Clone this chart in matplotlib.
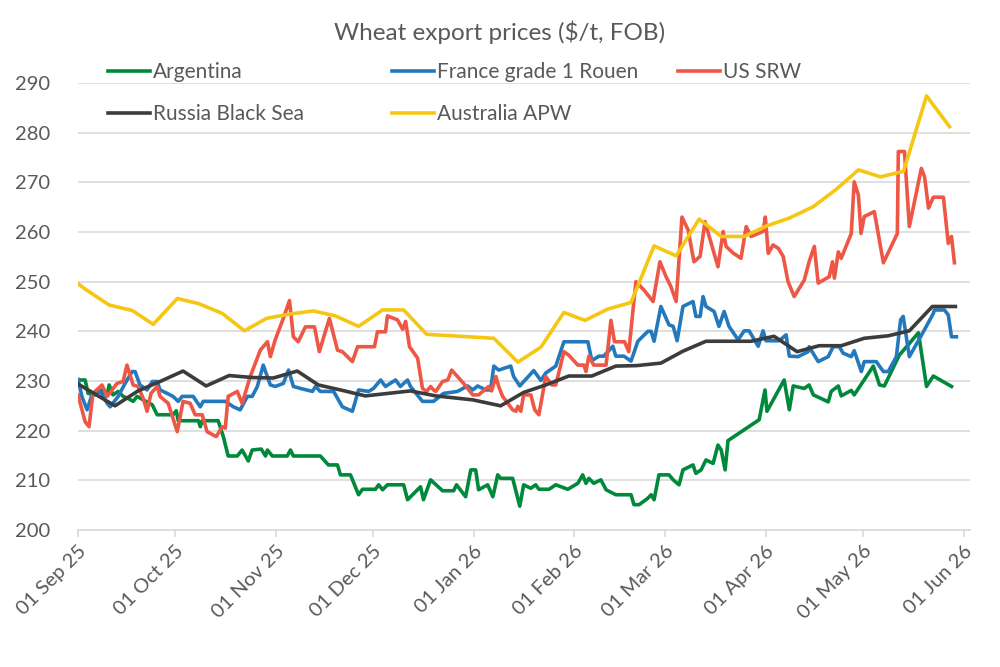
import matplotlib
matplotlib.use('Agg')
import matplotlib.pyplot as plt
import matplotlib.dates as mdates
import pandas as pd

# Wheat export prices ($/t, FOB)
# x values are days after 01 Sep 25

START = pd.Timestamp('2025-09-01')

arg_days = [0, 2.2, 3.1, 5.3, 7.4, 9.0, 9.6, 10.8, 12.4, 13.9, 15.4, 17.0, 18.2, 22.9, 24.4,
            29.3, 30.3, 30.9, 37.1, 37.7, 38.3, 43.2, 44.8, 46.3, 49.1, 50.6, 52.5, 53.7,
            56.5, 57.8, 58.4, 59.9, 64.5, 65.5, 66.4, 74.7, 77.2, 80.0, 80.9, 84.0, 86.5,
            87.7, 91.7, 92.7, 93.9, 95.4, 100.4, 101.6, 105.6, 106.5, 108.7, 112.4, 115.8,
            116.7, 119.5, 121.1, 122.6, 123.5, 126.3, 127.9, 129.4, 130.3, 134.0, 136.2,
            137.4, 139.6, 141.1, 142.1, 145.2, 147.3, 151.0, 154.1, 155.6, 156.6, 157.5,
            159.0, 161.2, 162.8, 165.8, 170.5, 171.4, 173.0, 175.7, 176.7, 177.6, 179.1,
            182.2, 183.5, 185.3, 186.5, 189.6, 190.5, 192.1, 193.6, 195.8, 197.3, 198.3,
            199.5, 200.4, 210.0, 211.8, 212.4, 217.7, 219.3, 220.5, 223.9, 225.4, 226.7,
            231.3, 232.2, 234.4, 235.3, 238.4, 239.3, 245.2, 247.1, 248.6, 253.2, 259.1,
            261.6, 263.7, 269.3]
arg_vals = [230.2, 230.2, 227.5, 227.2, 228.2, 227.2, 229.2, 227.2, 227.9, 226.9, 226.5,
            225.9, 226.9, 225.2, 223.2, 223.2, 224.0, 222.0, 222.0, 220.8, 222.0, 222.0,
            218.8, 214.9, 214.9, 216.1, 213.9, 216.1, 216.3, 214.9, 216.1, 214.9, 214.9,
            216.1, 214.9, 214.9, 213.1, 213.1, 211.1, 211.1, 207.1, 208.2, 208.2, 209.1,
            208.1, 209.1, 209.1, 206.1, 208.7, 206.1, 210.1, 207.9, 207.9, 209.1, 206.7,
            212.1, 212.1, 208.1, 209.1, 206.7, 211.1, 210.4, 210.4, 204.8, 209.1, 208.4,
            209.1, 208.2, 208.2, 209.1, 208.2, 209.4, 211.1, 209.4, 210.4, 209.4, 210.1,
            208.1, 207.1, 207.1, 205.1, 205.1, 206.4, 207.1, 206.1, 211.1, 211.1, 210.1,
            209.1, 212.1, 213.1, 211.4, 212.1, 214.1, 213.4, 217.1, 216.1, 212.1, 218.0,
            222.2, 228.2, 223.9, 230.2, 224.2, 229.0, 228.5, 229.2, 227.2, 225.8, 227.9,
            229.0, 227.0, 228.1, 227.2, 233.0, 229.2, 229.0, 235.2, 239.7, 228.9, 231.0,
            228.9]

fra_days = [0, 1.2, 2.8, 4.3, 6.8, 9.0, 9.9, 12.4, 14.5, 16.7, 17.6, 19.1, 21.3, 22.9, 24.4,
            25.3, 27.5, 29.3, 30.9, 32.1, 35.5, 37.7, 38.6, 45.4, 47.9, 50.0, 52.2, 53.7,
            55.3, 57.1, 59.3, 60.8, 63.3, 64.9, 66.4, 68.6, 72.3, 73.2, 74.7, 78.8, 81.5,
            84.6, 86.5, 89.6, 91.1, 93.3, 94.8, 97.9, 99.4, 101.6, 102.5, 106.2, 109.6,
            112.7, 117.0, 120.1, 121.7, 123.2, 125.7, 127.2, 128.2, 129.7, 133.4, 134.3,
            136.2, 140.5, 142.7, 144.2, 147.3, 149.8, 157.2, 158.4, 160.6, 162.1, 164.9,
            165.8, 168.3, 170.5, 172.6, 175.7, 176.7, 177.6, 179.7, 182.2, 183.5, 184.7,
            186.5, 189.6, 190.5, 191.8, 192.7, 193.6, 196.1, 197.6, 199.2, 200.7, 203.5,
            205.4, 206.9, 209.7, 211.2, 212.1, 216.2, 218.3, 219.3, 222.0, 225.1, 225.4,
            228.2, 231.3, 232.8, 234.7, 235.9, 238.4, 239.3, 241.5, 242.4, 246.1, 248.3,
            249.8, 252.3, 253.6, 254.4, 256.3, 260.7, 263.7, 264.0, 267.1, 268.3, 269.3,
            270.8]
fra_vals = [230.3, 226.9, 224.2, 227.2, 228.0, 225.5, 224.8, 226.9, 229.5, 231.9, 231.9,
            229.2, 228.2, 229.9, 229.9, 228.2, 227.5, 226.9, 225.9, 226.9, 226.9, 224.8,
            225.9, 225.9, 224.8, 224.2, 226.9, 226.9, 228.9, 233.2, 229.2, 228.9, 229.5,
            232.2, 228.9, 228.5, 227.9, 228.9, 227.9, 227.9, 224.8, 223.9, 228.2, 227.9,
            228.5, 230.2, 228.9, 230.2, 228.9, 230.2, 228.9, 225.9, 225.9, 227.5, 227.9,
            229.0, 228.2, 229.0, 228.2, 228.2, 233.0, 232.2, 233.0, 230.9, 229.0, 232.1,
            230.1, 231.6, 233.0, 237.9, 237.9, 234.1, 235.0, 235.0, 237.0, 235.0, 235.0,
            234.0, 238.0, 240.0, 240.0, 238.0, 245.0, 241.3, 241.0, 238.1, 245.0, 246.0,
            243.0, 243.0, 247.0, 245.0, 244.0, 241.0, 244.0, 241.0, 238.3, 240.1, 240.1,
            237.0, 240.1, 238.1, 238.1, 239.3, 235.0, 234.9, 235.9, 236.9, 233.9, 234.9,
            236.9, 236.9, 235.6, 234.9, 236.1, 231.9, 233.9, 233.9, 231.9, 231.9, 234.9,
            242.3, 243.0, 234.9, 240.0, 243.6, 244.3, 244.3, 243.3, 238.9, 238.9]

us_days = [0, 2.2, 3.4, 4.6, 7.4, 9.0, 10.5, 12.0, 13.9, 15.1, 17.0, 18.5, 20.1, 21.3, 22.5,
           24.4, 25.3, 27.8, 30.6, 32.4, 34.6, 36.1, 38.3, 39.8, 42.6, 44.5, 45.4, 46.3,
           49.1, 50.6, 53.1, 56.2, 58.4, 59.3, 60.8, 63.3, 65.2, 66.4, 67.9, 70.1, 72.9,
           74.4, 77.5, 80.0, 81.5, 84.6, 86.2, 91.4, 92.3, 94.8, 95.4, 98.5, 100.1, 101.0,
           102.2, 104.7, 106.2, 107.5, 108.7, 109.6, 110.3, 112.4, 114.0, 115.2, 117.0,
           118.9, 121.7, 123.5, 126.6, 127.5, 128.8, 129.7, 130.9, 134.0, 135.0, 135.6,
           136.5, 137.4, 139.6, 140.8, 142.1, 144.2, 146.1, 147.3, 149.8, 151.3, 154.1,
           156.0, 156.6, 157.5, 159.0, 162.8, 164.3, 165.4, 168.5, 169.8, 172.0, 174.5,
           177.3, 179.4, 181.3, 182.8, 184.4, 186.2, 188.1, 189.9, 191.8, 193.3, 194.6,
           197.3, 198.9, 199.8, 201.9, 204.4, 206.0, 207.5, 211.2, 211.9, 212.8, 214.3,
           215.9, 217.4, 218.9, 220.8, 223.9, 225.4, 227.0, 228.2, 231.6, 232.6, 233.2,
           234.4, 235.3, 238.4, 239.3, 240.6, 241.4, 242.4, 245.5, 248.3, 252.6, 252.9,
           254.8, 256.3, 260.0, 261.0, 262.2, 263.7, 266.8, 268.3, 269.3, 270.2]
us_vals = [227.2, 221.8, 220.8, 227.5, 229.2, 226.9, 228.2, 229.5, 229.9, 233.2, 229.2,
           228.9, 226.5, 223.9, 227.5, 228.9, 226.9, 225.5, 219.8, 225.9, 225.5, 223.2,
           223.2, 219.8, 218.8, 220.8, 220.5, 226.9, 227.9, 225.5, 230.9, 236.2, 237.9,
           234.9, 238.3, 242.6, 246.2, 238.9, 237.9, 240.9, 240.9, 235.9, 242.6, 236.2,
           235.9, 233.9, 236.9, 236.9, 239.9, 239.9, 243.1, 242.3, 240.4, 242.0, 236.9,
           234.6, 228.5, 227.9, 228.9, 228.2, 227.9, 229.9, 230.2, 232.2, 230.9, 229.5,
           227.2, 227.2, 228.9, 228.0, 230.9, 228.9, 226.9, 224.2, 223.9, 224.9, 223.9,
           227.2, 227.2, 224.2, 223.2, 230.9, 229.2, 229.2, 235.9, 235.2, 233.2, 233.2,
           231.9, 235.0, 233.2, 233.2, 242.2, 237.9, 237.9, 235.9, 250.0, 248.3, 246.0,
           254.0, 251.0, 249.0, 246.0, 263.0, 260.4, 254.0, 255.1, 262.1, 259.1, 253.0,
           260.1, 257.1, 255.8, 254.7, 261.1, 259.1, 260.1, 263.0, 255.7, 257.4, 256.7,
           255.1, 250.0, 247.0, 250.3, 254.0, 257.1, 249.7, 251.0, 254.0, 250.7, 256.0,
           254.7, 259.7, 270.1, 267.4, 259.7, 263.1, 264.1, 253.8, 259.7, 276.2, 276.2,
           261.1, 272.8, 271.1, 264.8, 267.0, 267.0, 257.7, 259.1, 253.8]

rus_days = [0, 11.4, 18.5, 25.3, 32.4, 39.5, 46.6, 53.7, 60.2, 67.6, 74.1, 80.9, 88.6,
            102.5, 110.3, 121.7, 130.3, 137.4, 144.2, 151.3, 158.4, 165.8, 172.3, 179.7,
            186.5, 193.6, 207.5, 214.6, 221.7, 228.5, 235.3, 242.4, 249.8, 256.3, 263.4,
            270.5]
rus_vals = [229.4, 225.0, 228.0, 229.9, 232.0, 229.0, 231.1, 230.7, 230.6, 232.0, 229.2,
            228.2, 227.0, 228.0, 227.0, 226.2, 225.0, 227.7, 229.2, 231.0, 231.0, 233.0,
            233.1, 233.6, 236.0, 238.0, 238.0, 239.0, 235.9, 237.1, 237.1, 238.6, 239.1,
            240.1, 245.0, 245.0]

aus_days = [0, 2.2, 9.6, 16.7, 23.2, 30.6, 37.1, 44.5, 51.3, 58.1, 65.5, 72.6, 79.4, 86.5,
            93.9, 100.4, 107.5, 128.2, 135.6, 142.7, 149.8, 156.3, 163.4, 170.5, 177.6,
            184.4, 191.5, 198.3, 205.4, 212.2, 219.3, 226.7, 233.8, 240.6, 247.4, 254.5,
            261.6, 268.7]
aus_vals = [249.6, 248.5, 245.3, 244.2, 241.4, 246.6, 245.6, 243.6, 240.1, 242.6, 243.5,
            244.1, 243.1, 241.0, 244.3, 244.3, 239.4, 238.6, 233.8, 236.8, 243.8, 242.2,
            244.5, 245.8, 257.2, 255.2, 262.6, 259.1, 259.1, 261.2, 262.8, 265.1, 268.6,
            272.5, 271.1, 272.2, 287.4, 281.2]

def to_dates(days):
    return START + pd.to_timedelta(days, unit='D')

plt.rcParams['font.family'] = ['Lato', 'DejaVu Sans']
TXT = '#595959'

fig = plt.figure(figsize=(10, 6.67), dpi=100)
ax = fig.add_axes([0.078, 0.2054, 0.892, 0.6702])

lw = 2.6
l_arg, = ax.plot(to_dates(arg_days), arg_vals, color='#00893B', lw=lw, label='Argentina')
l_fra, = ax.plot(to_dates(fra_days), fra_vals, color='#2479BD', lw=lw, label='France grade 1 Rouen')
l_us, = ax.plot(to_dates(us_days), us_vals, color='#EE5646', lw=lw, label='US SRW')
l_rus, = ax.plot(to_dates(rus_days), rus_vals, color='#3C3C3C', lw=lw, label='Russia Black Sea')
l_aus, = ax.plot(to_dates(aus_days), aus_vals, color='#F6C614', lw=lw, label='Australia APW')

ax.set_ylim(200, 290)
ax.set_yticks(range(200, 291, 10))
ax.set_xlim(START, pd.Timestamp('2026-06-03'))
ax.xaxis.set_major_locator(mdates.MonthLocator())
ax.xaxis.set_major_formatter(mdates.DateFormatter('%d %b %y'))

ax.grid(axis='y', color='#D9D9D9', lw=1.2)
ax.set_axisbelow(True)
for s in ['top', 'right', 'left']:
    ax.spines[s].set_visible(False)
ax.spines['bottom'].set_color('#D9D9D9')
ax.spines['bottom'].set_linewidth(1.2)
ax.tick_params(axis='y', length=0, pad=20, labelsize=14.5, labelcolor=TXT)
ax.tick_params(axis='x', length=5, width=1.2, color='#D9D9D9', labelsize=14.5, labelcolor=TXT, pad=4)
for lab in ax.get_xticklabels():
    lab.set_rotation(45)
    lab.set_ha('right')
    lab.set_va('top')
    lab.set_rotation_mode('anchor')

fig.text(0.5, 1 - 32 / 667, 'Wheat export prices ($/t, FOB)', ha='center', va='center',
         fontsize=17.5, color=TXT)

# legend: three columns placed like the Excel legend
cols = [([l_arg, l_rus], 0.108), ([l_fra, l_aus], 0.392), ([l_us], 0.678)]
for handles, xpos in cols:
    fig.legend(handles=handles, loc='upper left', bbox_to_anchor=(xpos, 1 - 62 / 667),
               frameon=False, fontsize=15, handlelength=2.0, handletextpad=0.15,
               labelspacing=1.05, borderaxespad=0, borderpad=0, labelcolor=TXT)

fig.savefig('out.png', dpi=100)
